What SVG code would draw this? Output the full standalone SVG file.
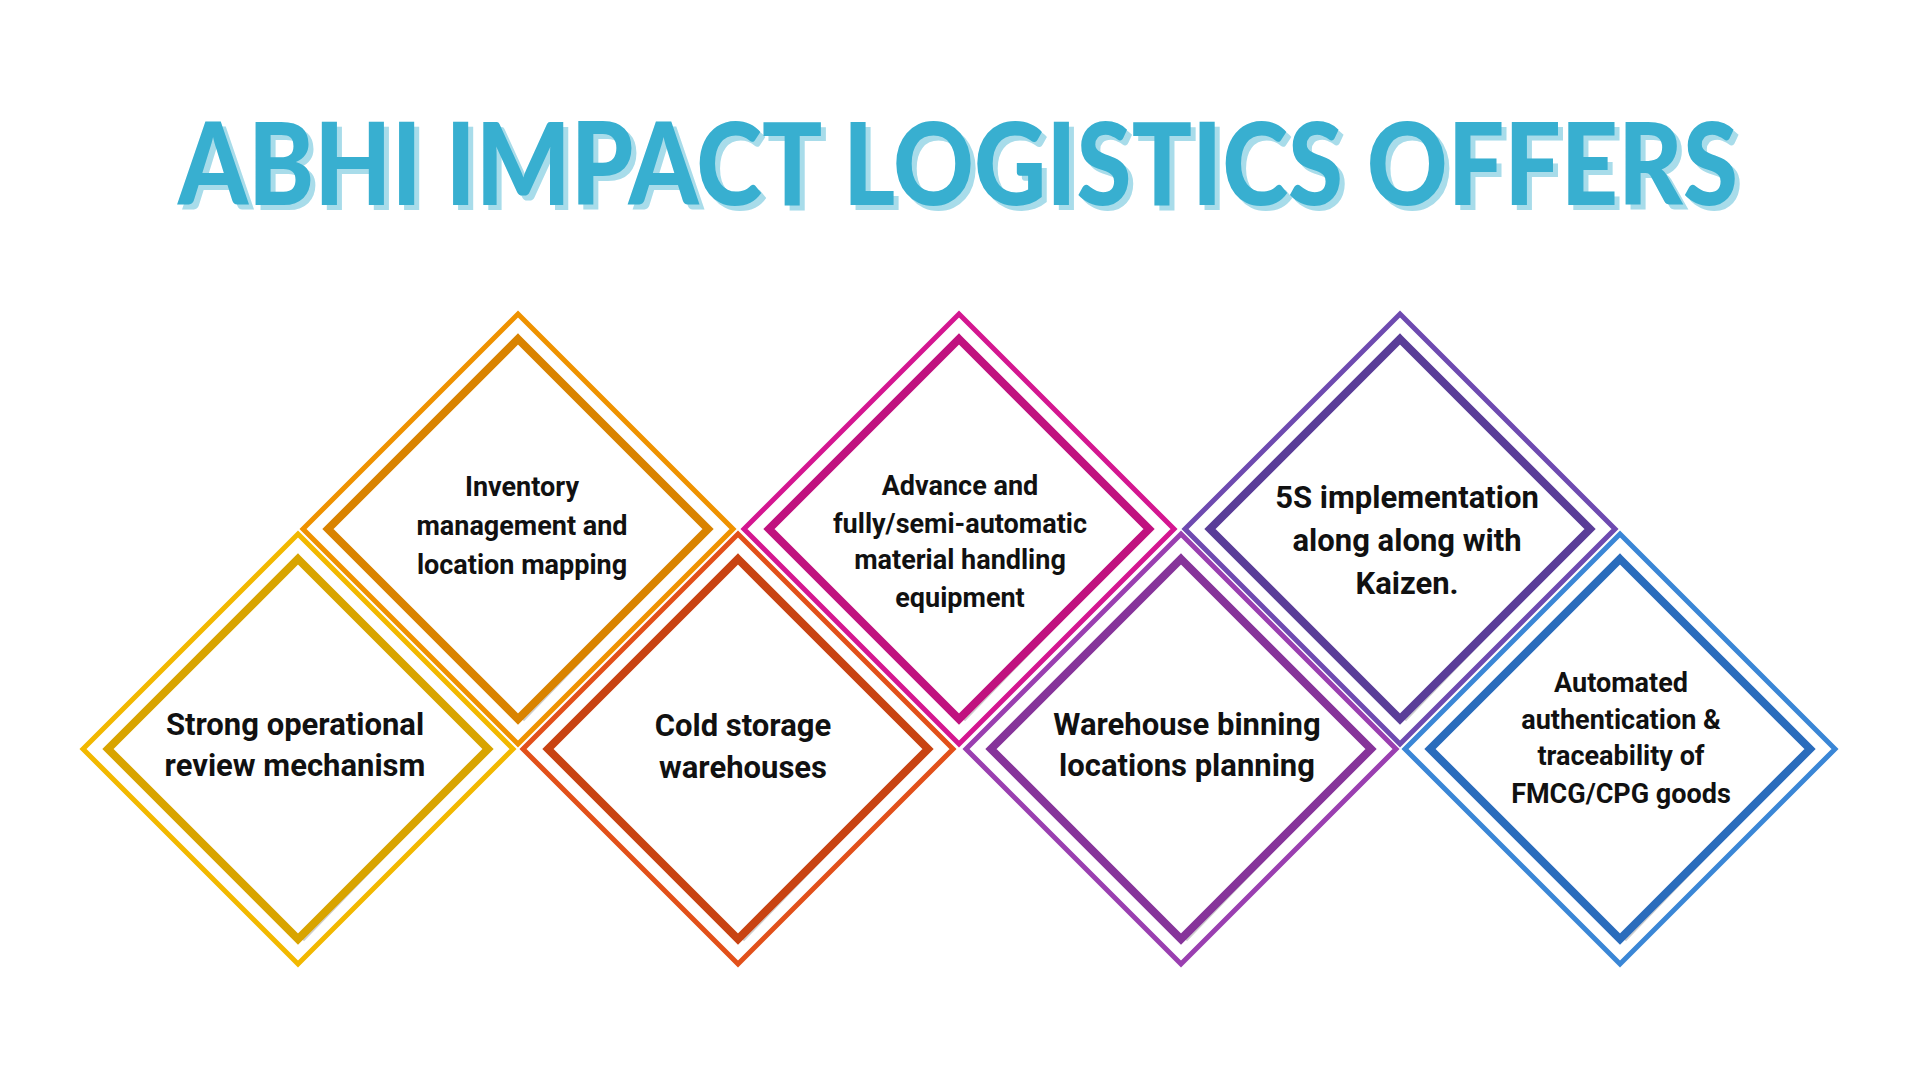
<svg xmlns="http://www.w3.org/2000/svg" width="1920" height="1078" viewBox="0 0 1920 1078">
<defs>
<style>
.o{fill:none;stroke-width:5}
.i{fill:#fff;stroke-width:8}
.s{fill:none;stroke:#cfcfcf;stroke-width:6}
.t{font-family:Roboto,"Liberation Sans",sans-serif;font-weight:700;fill:#111;text-anchor:middle}
.m{font-size:31px}.n{font-size:27px}
</style>
<path id="O" d="M0,-215 L215,0 L0,215 L-215,0Z"/>
<path id="I" d="M0,-190 L190,0 L0,190 L-190,0Z"/>
<path id="S" d="M6,-182 L188,0 L6,188 L-176,6Z"/>
</defs>
<rect width="1920" height="1078" fill="#fff"/>
<g font-family="Lato,'Liberation Sans',sans-serif" font-weight="900" font-size="114">
<text x="963" y="210" text-anchor="middle" fill="#a8dcea" textLength="1560" lengthAdjust="spacingAndGlyphs">ABHI IMPACT LOGISTICS OFFERS</text>
<text x="958" y="205" text-anchor="middle" fill="#38afd0" textLength="1560" lengthAdjust="spacingAndGlyphs">ABHI IMPACT LOGISTICS OFFERS</text>
</g>
<g id="n2" transform="translate(518,529)"><use href="#O" class="o" stroke="#ef9200"/><use href="#S" class="s"/><use href="#I" class="i" stroke="#d98300"/></g>
<g id="n4" transform="translate(959,529)"><use href="#O" class="o" stroke="#d41690"/><use href="#S" class="s"/><use href="#I" class="i" stroke="#c0127f"/></g>
<g id="n6" transform="translate(1400,529)"><use href="#O" class="o" stroke="#6e4ab0"/><use href="#S" class="s"/><use href="#I" class="i" stroke="#5a3d98"/></g>
<g id="n1" transform="translate(298,749)"><use href="#O" class="o" stroke="#f2b800"/><use href="#S" class="s"/><use href="#I" class="i" stroke="#d8a400"/></g>
<g id="n3" transform="translate(738,749)"><use href="#O" class="o" stroke="#e2501a"/><use href="#S" class="s"/><use href="#I" class="i" stroke="#c84312"/></g>
<g id="n5" transform="translate(1181,749)"><use href="#O" class="o" stroke="#9a3fb0"/><use href="#S" class="s"/><use href="#I" class="i" stroke="#86349a"/></g>
<g id="n7" transform="translate(1620,749)"><use href="#O" class="o" stroke="#3a86d6"/><use href="#S" class="s"/><use href="#I" class="i" stroke="#2a6cbc"/></g>
<g id="labels">
<text class="t n" x="522"><tspan x="522" y="496">Inventory</tspan><tspan x="522" y="535">management and</tspan><tspan x="522" y="574">location mapping</tspan></text>
<text class="t m" x="295"><tspan x="295" y="735">Strong operational</tspan><tspan x="295" y="776">review mechanism</tspan></text>
<text class="t m" x="743"><tspan x="743" y="736">Cold storage</tspan><tspan x="743" y="778">warehouses</tspan></text>
<text class="t n" x="960"><tspan x="960" y="495">Advance and</tspan><tspan x="960" y="533">fully/semi-automatic</tspan><tspan x="960" y="569">material handling</tspan><tspan x="960" y="607">equipment</tspan></text>
<text class="t m" x="1187"><tspan x="1187" y="735">Warehouse binning</tspan><tspan x="1187" y="776">locations planning</tspan></text>
<text class="t m" x="1407"><tspan x="1407" y="508">5S implementation</tspan><tspan x="1407" y="551">along along with</tspan><tspan x="1407" y="594">Kaizen.</tspan></text>
<text class="t n" x="1621"><tspan x="1621" y="692">Automated</tspan><tspan x="1621" y="729">authentication &amp;</tspan><tspan x="1621" y="765">traceability of</tspan><tspan x="1621" y="803">FMCG/CPG goods</tspan></text>
</g>
<g id="connectors"/>
</svg>
